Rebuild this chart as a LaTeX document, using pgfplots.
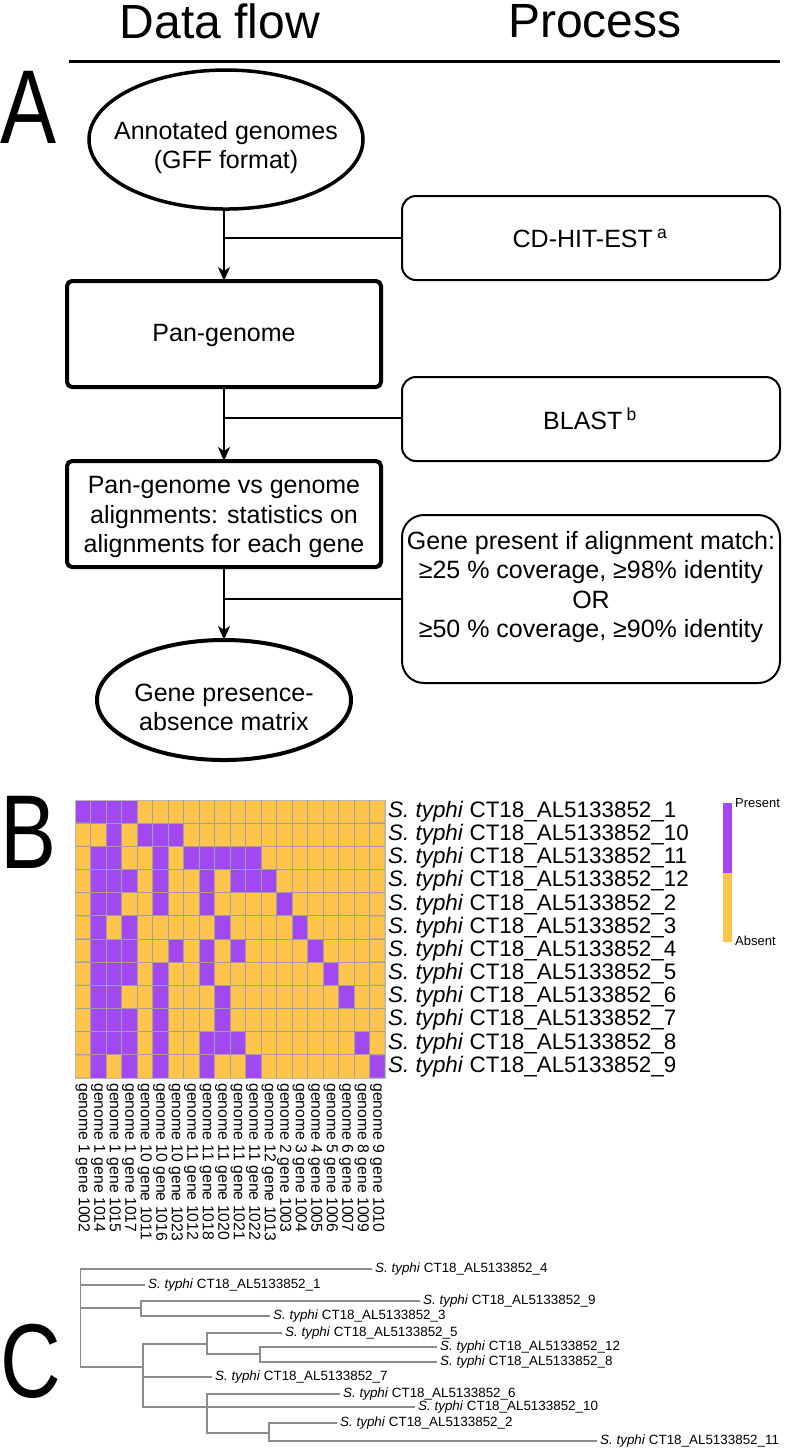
\documentclass[border=0pt]{standalone}
\usepackage{pgfplots}
\pgfplotsset{compat=1.18}
\usepackage{fontspec}
\setmainfont{Liberation Sans}
\newfontfamily\narrowfont[FakeStretch=0.8]{Liberation Sans}
\usetikzlibrary{arrows.meta}
\definecolor{prp}{RGB}{162,72,240}
\definecolor{ylw}{RGB}{255,196,76}
\definecolor{gridc}{RGB}{160,160,160}
\definecolor{treec}{RGB}{140,140,140}
\newcommand{\st}[1]{\textit{S. typhi} CT18\_AL5133852\_#1}
\tikzset{treeline/.style={draw=treec, line width=1.2pt, mark=none}}
\begin{document}
\begin{tikzpicture}
\path[use as bounding box] (0,0) rectangle (787pt,-1449pt);
% ---------- background axis: pixel coordinates ----------
\begin{axis}[at={(0pt,0pt)}, anchor=north west, scale only axis,
  width=787pt, height=1449pt, xmin=0, xmax=787, ymin=0, ymax=1449,
  y dir=reverse, hide axis, clip=false]
% header
\node[font=\fontsize{48}{50}\selectfont, inner sep=0pt] at (220,21) {Data flow};
\node[font=\fontsize{48}{50}\selectfont, inner sep=0pt] at (595,21) {Process};
\draw[line width=3pt] (69,61) -- (780,61);
% panel letters
\node[font=\narrowfont\fontsize{105}{105}\selectfont, anchor=base west, inner sep=0pt] at (0,143) {A};
\node[font=\narrowfont\fontsize{105}{105}\selectfont, anchor=base west, inner sep=0pt] at (0,868) {B};
\node[font=\narrowfont\fontsize{105}{105}\selectfont, anchor=base west, inner sep=0pt] at (0,1397) {C};
% flowchart shapes
\draw[line width=3.5pt] (226,139.5) ellipse [x radius=137pt, y radius=69.5pt];
\draw[line width=4pt, rounded corners=5pt] (67,281) rectangle (381,387);
\draw[line width=4pt, rounded corners=5pt] (67,461) rectangle (381,567);
\draw[line width=4pt] (224,700) ellipse [x radius=127pt, y radius=60pt];
\draw[line width=2pt, rounded corners=14pt] (402,196) rectangle (780,280);
\draw[line width=2pt, rounded corners=14pt] (402,377) rectangle (780,461);
\draw[line width=2pt, rounded corners=22pt] (402,515) rectangle (780,683);
% connectors
\draw[line width=2pt, -{Stealth[length=14pt,width=12pt,inset=4pt]}] (224,209) -- (224,281);
\draw[line width=2pt] (224,238) -- (402,238);
\draw[line width=2pt, -{Stealth[length=14pt,width=12pt,inset=4pt]}] (224,387) -- (224,461);
\draw[line width=2pt] (224,418) -- (402,418);
\draw[line width=2pt, -{Stealth[length=14pt,width=12pt,inset=4pt]}] (224,567) -- (224,640);
\draw[line width=2pt] (224,599) -- (402,599);
% flowchart texts
\begin{scope}[every node/.style={font=\fontsize{25}{29.3}\selectfont, align=center, inner sep=0pt}]
\node at (226,147.5) {Annotated genomes\\(GFF format)};
\node at (590,238) {CD-HIT-EST\,\textsuperscript{a}};
\node at (224,335) {Pan-genome};
\node at (590,419) {BLAST\,\textsuperscript{b}};
\node at (224,517) {Pan-genome vs genome\\alignments: statistics on\\alignments for each gene};
\node at (591,587) {Gene present if alignment match:\\≥25 \% coverage, ≥98\% identity\\OR\\≥50 \% coverage, ≥90\% identity};
\node at (224,707.5) {Gene presence-\\absence matrix};
\end{scope}
% colour key of the heatmap
\fill[prp] (723,803) rectangle (732,873);
\fill[ylw] (723,873) rectangle (732,942);
\node[font=\fontsize{13}{14}\selectfont, anchor=west, inner sep=0pt] at (735,803) {Present};
\node[font=\fontsize{13}{14}\selectfont, anchor=west, inner sep=0pt] at (735,941) {Absent};
% ---------- tree (panel C) ----------
\addplot[treeline] coordinates {(372,1269) (80.7,1269) (80.7,1367) (143,1367)};
\addplot[treeline] coordinates {(80.7,1285) (145,1285)};
\addplot[treeline] coordinates {(80.7,1308) (141,1308)};
\addplot[treeline] coordinates {(420,1301) (141,1301) (141,1316) (270,1316)};
\addplot[treeline] coordinates {(207,1344) (143,1344) (143,1407) (415,1407)};
\addplot[treeline] coordinates {(282,1333) (207,1333) (207,1354) (260,1354)};
\addplot[treeline] coordinates {(437,1347) (260,1347) (260,1362) (437,1362)};
\addplot[treeline] coordinates {(143,1377) (212,1377)};
\addplot[treeline] coordinates {(340,1394) (207,1394) (207,1433) (269,1433)};
\addplot[treeline] coordinates {(337,1423) (269,1423) (269,1441) (597,1441)};
\begin{scope}[every node/.style={font=\fontsize{13.4}{14}\selectfont, anchor=west, inner sep=0pt}]
\node at (375,1269) {\st{4}};
\node at (148,1285) {\st{1}};
\node at (423,1301) {\st{9}};
\node at (273,1316) {\st{3}};
\node at (285,1333) {\st{5}};
\node at (440,1347) {\st{12}};
\node at (440,1362) {\st{8}};
\node at (215,1377) {\st{7}};
\node at (343,1394) {\st{6}};
\node at (418,1407) {\st{10}};
\node at (340,1423) {\st{2}};
\node at (600,1441) {\st{11}};
\end{scope}
\end{axis}
% ---------- heatmap (panel B) ----------
\begin{axis}[at={(75pt,-800pt)}, anchor=north west, scale only axis,
  width=310pt, height=278pt,
  xmin=0.5, xmax=20.5, ymin=0.5, ymax=12.5, y dir=reverse,
  axis line style={draw=gray!55, line width=1pt},
  xtick={1,...,20},
  xticklabels={genome 1 gene 1002, genome 1 gene 1014, genome 1 gene 1015, genome 1 gene 1017,
    genome 10 gene 1011, genome 10 gene 1016, genome 10 gene 1023, genome 11 gene 1012,
    genome 11 gene 1018, genome 11 gene 1020, genome 11 gene 1021, genome 11 gene 1022,
    genome 12 gene 1013, genome 2 gene 1003, genome 3 gene 1004, genome 4 gene 1005,
    genome 5 gene 1006, genome 6 gene 1007, genome 8 gene 1009, genome 9 gene 1010},
  xticklabel style={rotate=-90, anchor=west, inner sep=0pt, font=\fontsize{15.8}{16}\selectfont},
  xticklabel shift=5pt,
  ytick={1,...,12},
  yticklabels={\st{1},\st{10},\st{11},\st{12},\st{2},\st{3},\st{4},\st{5},\st{6},\st{7},\st{8},\st{9}},
  yticklabel pos=right,
  yticklabel style={anchor=west, inner sep=0pt, font=\fontsize{22.4}{24}\selectfont},
  yticklabel shift=3pt,
  major tick length=0pt,
  extra x ticks={1.5,2.5,...,19.5}, extra x tick labels={},
  extra y ticks={1.5,2.5,...,11.5}, extra y tick labels={},
  extra tick style={grid=major, major tick length=0pt},
  major grid style={draw=gridc, line width=1pt},
  axis on top,
  colormap={pa}{color=(ylw) color=(prp)},
  point meta min=0, point meta max=1,
]
\addplot[matrix plot*, draw=gridc, line width=1pt, mesh/cols=20, point meta=explicit] coordinates {
(1,1)[1] (2,1)[1] (3,1)[1] (4,1)[1] (5,1)[0] (6,1)[0] (7,1)[0] (8,1)[0] (9,1)[0] (10,1)[0] (11,1)[0] (12,1)[0] (13,1)[0] (14,1)[0] (15,1)[0] (16,1)[0] (17,1)[0] (18,1)[0] (19,1)[0] (20,1)[0]
(1,2)[0] (2,2)[0] (3,2)[1] (4,2)[0] (5,2)[1] (6,2)[1] (7,2)[1] (8,2)[0] (9,2)[0] (10,2)[0] (11,2)[0] (12,2)[0] (13,2)[0] (14,2)[0] (15,2)[0] (16,2)[0] (17,2)[0] (18,2)[0] (19,2)[0] (20,2)[0]
(1,3)[0] (2,3)[1] (3,3)[1] (4,3)[0] (5,3)[0] (6,3)[1] (7,3)[0] (8,3)[1] (9,3)[1] (10,3)[1] (11,3)[1] (12,3)[1] (13,3)[0] (14,3)[0] (15,3)[0] (16,3)[0] (17,3)[0] (18,3)[0] (19,3)[0] (20,3)[0]
(1,4)[0] (2,4)[1] (3,4)[1] (4,4)[1] (5,4)[0] (6,4)[1] (7,4)[0] (8,4)[0] (9,4)[1] (10,4)[0] (11,4)[1] (12,4)[1] (13,4)[1] (14,4)[0] (15,4)[0] (16,4)[0] (17,4)[0] (18,4)[0] (19,4)[0] (20,4)[0]
(1,5)[0] (2,5)[1] (3,5)[1] (4,5)[0] (5,5)[0] (6,5)[1] (7,5)[0] (8,5)[0] (9,5)[1] (10,5)[0] (11,5)[0] (12,5)[0] (13,5)[0] (14,5)[1] (15,5)[0] (16,5)[0] (17,5)[0] (18,5)[0] (19,5)[0] (20,5)[0]
(1,6)[0] (2,6)[1] (3,6)[0] (4,6)[1] (5,6)[0] (6,6)[0] (7,6)[0] (8,6)[0] (9,6)[0] (10,6)[1] (11,6)[0] (12,6)[0] (13,6)[0] (14,6)[0] (15,6)[1] (16,6)[0] (17,6)[0] (18,6)[0] (19,6)[0] (20,6)[0]
(1,7)[0] (2,7)[1] (3,7)[1] (4,7)[1] (5,7)[0] (6,7)[0] (7,7)[1] (8,7)[0] (9,7)[1] (10,7)[0] (11,7)[1] (12,7)[0] (13,7)[0] (14,7)[0] (15,7)[0] (16,7)[1] (17,7)[0] (18,7)[0] (19,7)[0] (20,7)[0]
(1,8)[0] (2,8)[1] (3,8)[1] (4,8)[1] (5,8)[0] (6,8)[1] (7,8)[0] (8,8)[0] (9,8)[1] (10,8)[0] (11,8)[0] (12,8)[0] (13,8)[0] (14,8)[0] (15,8)[0] (16,8)[0] (17,8)[1] (18,8)[0] (19,8)[0] (20,8)[0]
(1,9)[0] (2,9)[1] (3,9)[1] (4,9)[0] (5,9)[0] (6,9)[1] (7,9)[0] (8,9)[0] (9,9)[0] (10,9)[1] (11,9)[0] (12,9)[0] (13,9)[0] (14,9)[0] (15,9)[0] (16,9)[0] (17,9)[0] (18,9)[1] (19,9)[0] (20,9)[0]
(1,10)[0] (2,10)[1] (3,10)[1] (4,10)[1] (5,10)[0] (6,10)[1] (7,10)[0] (8,10)[0] (9,10)[0] (10,10)[1] (11,10)[0] (12,10)[0] (13,10)[0] (14,10)[0] (15,10)[0] (16,10)[0] (17,10)[0] (18,10)[0] (19,10)[0] (20,10)[0]
(1,11)[0] (2,11)[1] (3,11)[1] (4,11)[1] (5,11)[0] (6,11)[1] (7,11)[0] (8,11)[0] (9,11)[1] (10,11)[1] (11,11)[1] (12,11)[0] (13,11)[0] (14,11)[0] (15,11)[0] (16,11)[0] (17,11)[0] (18,11)[0] (19,11)[1] (20,11)[0]
(1,12)[0] (2,12)[1] (3,12)[0] (4,12)[1] (5,12)[0] (6,12)[1] (7,12)[0] (8,12)[0] (9,12)[1] (10,12)[0] (11,12)[0] (12,12)[1] (13,12)[0] (14,12)[0] (15,12)[0] (16,12)[0] (17,12)[0] (18,12)[0] (19,12)[0] (20,12)[1]
};
\end{axis}
\end{tikzpicture}
\end{document}
